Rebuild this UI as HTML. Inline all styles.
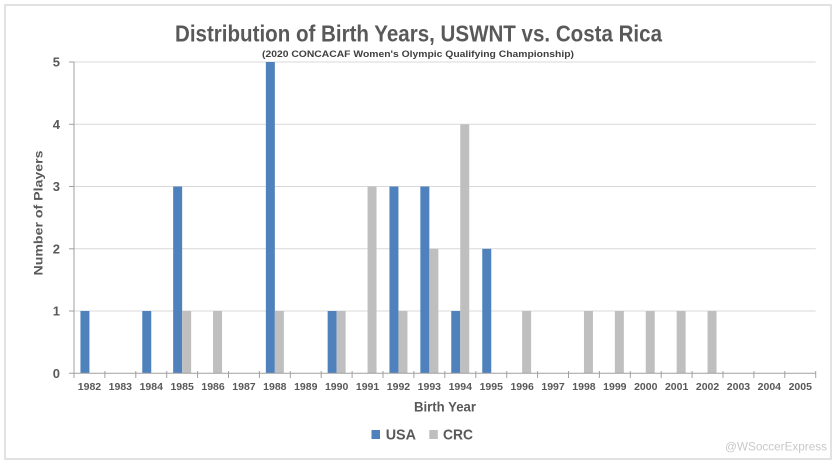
<!DOCTYPE html>
<html><head><meta charset="utf-8"><style>
html,body{margin:0;padding:0;background:#fff;}
svg{display:block;}
text{font-family:"Liberation Sans",sans-serif;}
</style></head><body>
<svg width="839" height="466" viewBox="0 0 839 466" xmlns="http://www.w3.org/2000/svg">
<rect x="0" y="0" width="839" height="466" fill="#fff"/>
<rect x="5" y="5" width="826" height="454" fill="#fff" stroke="#d9d9d9" stroke-width="1.5"/>
<!-- title -->
<text x="418.5" y="41.5" text-anchor="middle" font-size="23" font-weight="bold" fill="#595959" textLength="487" lengthAdjust="spacingAndGlyphs">Distribution of Birth Years, USWNT vs. Costa Rica</text>
<text x="418" y="57" text-anchor="middle" font-size="9.5" font-weight="bold" fill="#404040" textLength="312" lengthAdjust="spacingAndGlyphs">(2020 CONCACAF Women's Olympic Qualifying Championship)</text>
<!-- gridlines -->
<g stroke="#d9d9d9" stroke-width="1">
<line x1="74" y1="62" x2="815.7" y2="62"/>
<line x1="74" y1="124.3" x2="815.7" y2="124.3"/>
<line x1="74" y1="186.5" x2="815.7" y2="186.5"/>
<line x1="74" y1="248.8" x2="815.7" y2="248.8"/>
<line x1="74" y1="311" x2="815.7" y2="311"/>
</g>
<!-- bars USA -->
<g fill="#4f81bd">
<rect x="80.45" y="311" width="9" height="62.3"/>
<rect x="142.25" y="311" width="9" height="62.3"/>
<rect x="173.15" y="186.5" width="9" height="186.8"/>
<rect x="265.85" y="62" width="9" height="311.3"/>
<rect x="327.65" y="311" width="9" height="62.3"/>
<rect x="389.45" y="186.5" width="9" height="186.8"/>
<rect x="420.35" y="186.5" width="9" height="186.8"/>
<rect x="451.25" y="311" width="9" height="62.3"/>
<rect x="482.25" y="248.8" width="9" height="124.5"/>
</g>
<!-- bars CRC -->
<g fill="#bfbfbf">
<rect x="182.15" y="311" width="9" height="62.3"/>
<rect x="213.05" y="311" width="9" height="62.3"/>
<rect x="274.85" y="311" width="9" height="62.3"/>
<rect x="336.65" y="311" width="9" height="62.3"/>
<rect x="367.55" y="186.5" width="9" height="186.8"/>
<rect x="398.45" y="311" width="9" height="62.3"/>
<rect x="429.35" y="248.8" width="9" height="124.5"/>
<rect x="460.25" y="124.3" width="9" height="249"/>
<rect x="522.15" y="311" width="9" height="62.3"/>
<rect x="583.95" y="311" width="9" height="62.3"/>
<rect x="614.85" y="311" width="9" height="62.3"/>
<rect x="645.75" y="311" width="9" height="62.3"/>
<rect x="676.65" y="311" width="9" height="62.3"/>
<rect x="707.55" y="311" width="9" height="62.3"/>
</g>
<!-- axes -->
<g stroke="#a0a0a0" stroke-width="1">
<line x1="74" y1="62" x2="74" y2="373.3"/>
<line x1="69" y1="62" x2="74" y2="62"/>
<line x1="69" y1="124.3" x2="74" y2="124.3"/>
<line x1="69" y1="186.5" x2="74" y2="186.5"/>
<line x1="69" y1="248.8" x2="74" y2="248.8"/>
<line x1="69" y1="311" x2="74" y2="311"/>
<line x1="69" y1="373.3" x2="815.7" y2="373.3"/>
<line x1="74" y1="371" x2="74" y2="378"/>
<line x1="104.9" y1="371" x2="104.9" y2="378"/>
<line x1="135.8" y1="371" x2="135.8" y2="378"/>
<line x1="166.7" y1="371" x2="166.7" y2="378"/>
<line x1="197.6" y1="371" x2="197.6" y2="378"/>
<line x1="228.5" y1="371" x2="228.5" y2="378"/>
<line x1="259.4" y1="371" x2="259.4" y2="378"/>
<line x1="290.3" y1="371" x2="290.3" y2="378"/>
<line x1="321.2" y1="371" x2="321.2" y2="378"/>
<line x1="352.1" y1="371" x2="352.1" y2="378"/>
<line x1="383" y1="371" x2="383" y2="378"/>
<line x1="413.9" y1="371" x2="413.9" y2="378"/>
<line x1="444.8" y1="371" x2="444.8" y2="378"/>
<line x1="475.8" y1="371" x2="475.8" y2="378"/>
<line x1="506.7" y1="371" x2="506.7" y2="378"/>
<line x1="537.6" y1="371" x2="537.6" y2="378"/>
<line x1="568.5" y1="371" x2="568.5" y2="378"/>
<line x1="599.4" y1="371" x2="599.4" y2="378"/>
<line x1="630.3" y1="371" x2="630.3" y2="378"/>
<line x1="661.2" y1="371" x2="661.2" y2="378"/>
<line x1="692.1" y1="371" x2="692.1" y2="378"/>
<line x1="723" y1="371" x2="723" y2="378"/>
<line x1="753.9" y1="371" x2="753.9" y2="378"/>
<line x1="784.8" y1="371" x2="784.8" y2="378"/>
<line x1="815.7" y1="371" x2="815.7" y2="378"/>
</g>
<!-- y labels -->
<g font-size="13" font-weight="bold" fill="#595959" text-anchor="end">
<text x="60" y="66.7">5</text>
<text x="60" y="129">4</text>
<text x="60" y="191.2">3</text>
<text x="60" y="253.5">2</text>
<text x="60" y="315.7">1</text>
<text x="60" y="378">0</text>
</g>
<text transform="translate(42.5,213) rotate(-90)" text-anchor="middle" font-size="12" font-weight="bold" fill="#595959" textLength="125" lengthAdjust="spacingAndGlyphs">Number of Players</text>
<!-- x labels -->
<g font-size="10.5" font-weight="bold" fill="#595959" text-anchor="middle">
<text x="89.45" y="389.8">1982</text>
<text x="120.35" y="389.8">1983</text>
<text x="151.25" y="389.8">1984</text>
<text x="182.15" y="389.8">1985</text>
<text x="213.05" y="389.8">1986</text>
<text x="243.95" y="389.8">1987</text>
<text x="274.85" y="389.8">1988</text>
<text x="305.75" y="389.8">1989</text>
<text x="336.65" y="389.8">1990</text>
<text x="367.55" y="389.8">1991</text>
<text x="398.45" y="389.8">1992</text>
<text x="429.35" y="389.8">1993</text>
<text x="460.25" y="389.8">1994</text>
<text x="491.25" y="389.8">1995</text>
<text x="522.15" y="389.8">1996</text>
<text x="553.05" y="389.8">1997</text>
<text x="583.95" y="389.8">1998</text>
<text x="614.85" y="389.8">1999</text>
<text x="645.75" y="389.8">2000</text>
<text x="676.65" y="389.8">2001</text>
<text x="707.55" y="389.8">2002</text>
<text x="738.45" y="389.8">2003</text>
<text x="769.35" y="389.8">2004</text>
<text x="800.25" y="389.8">2005</text>
</g>
<text x="445" y="411.5" text-anchor="middle" font-size="13.5" font-weight="bold" fill="#595959" textLength="62" lengthAdjust="spacingAndGlyphs">Birth Year</text>
<!-- legend -->
<rect x="371.5" y="430" width="8.5" height="9" fill="#4f81bd"/>
<text x="385.7" y="439.3" font-size="15" font-weight="bold" fill="#595959" textLength="30.3" lengthAdjust="spacingAndGlyphs">USA</text>
<rect x="429.3" y="430" width="8.5" height="9" fill="#bfbfbf"/>
<text x="443" y="439.3" font-size="15" font-weight="bold" fill="#595959" textLength="30" lengthAdjust="spacingAndGlyphs">CRC</text>
<!-- watermark -->
<text x="725" y="450.7" font-size="12" fill="#c8c8c8" textLength="102" lengthAdjust="spacingAndGlyphs">@WSoccerExpress</text>
</svg>
</body></html>
